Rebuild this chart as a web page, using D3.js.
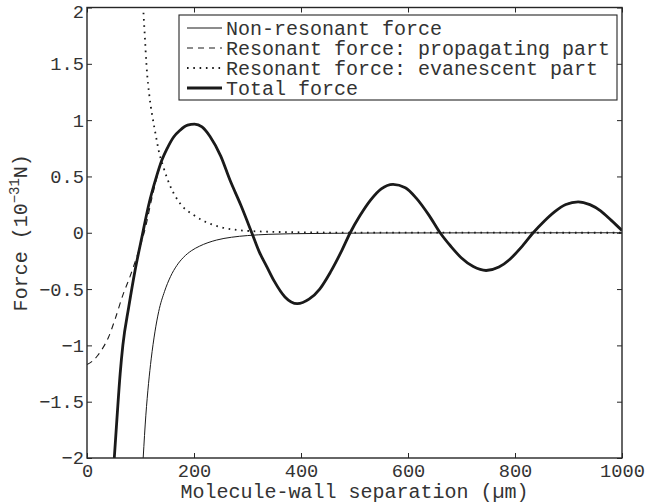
<!DOCTYPE html>
<html>
<head>
<meta charset="utf-8">
<script src="https://cdn.jsdelivr.net/npm/d3@7"></script>
<style>
  body { margin: 0; background: #fff; }
  svg text { font-family: "Liberation Mono", "Courier New", monospace; fill: #333; }
</style>
</head>
<body>
<svg id="chart" width="645" height="504"></svg>
<script>
// --- data (x in µm, y in 1e-31 N) ---
const xTicks = [0, 200, 400, 600, 800, 1000];
const yTicks = [-2, -1.5, -1, -0.5, 0, 0.5, 1, 1.5, 2];
const yTickLabels = ["−2", "−1.5", "−1", "−0.5", "0", "0.5", "1", "1.5", "2"];

const legendLabels = [
  "Non-resonant force",
  "Resonant force: propagating part",
  "Resonant force: evanescent part",
  "Total force"
];

// non-resonant force (thin solid)
const nonResonant = [
  [105, -2.0], [110, -1.62], [115, -1.34], [120, -1.12], [127, -0.88], [134, -0.70],
  [145, -0.52], [156, -0.39], [168, -0.29], [180, -0.22], [195, -0.16], [210, -0.12],
  [242, -0.065], [270, -0.04], [300, -0.025], [340, -0.014], [380, -0.009], [450, -0.005],
  [550, -0.002], [700, -0.001], [1000, 0]
];

// resonant force, propagating part (dashed) – below x≈140 it is visible, after that it runs under the total
const propagatingStart = [
  [0, -1.17], [10, -1.14], [20, -1.09], [30, -1.02], [40, -0.93], [53, -0.76],
  [68, -0.54], [78, -0.42], [87, -0.30], [100, -0.11], [110, 0.06], [120, 0.28], [130, 0.48]
];

// resonant force, evanescent part (dotted)
const evanescent = [
  [100, 2.4], [105, 2.0], [108, 1.75], [111, 1.5], [117, 1.2], [122, 1.04], [128, 0.88],
  [134, 0.73], [143, 0.58], [156, 0.41], [174, 0.26], [200, 0.155], [221, 0.098],
  [250, 0.05], [280, 0.025], [320, 0.012], [400, 0.004], [500, 0.001], [1000, 0]
];

// total force (bold)
const total = [
  [51, -2.0], [55, -1.72], [62, -1.25], [67, -1.0], [78, -0.66], [90, -0.33],
  [103, -0.03], [115, 0.24], [130, 0.50], [140, 0.645], [150, 0.75], [162, 0.85],
  [174, 0.91], [188, 0.955], [201, 0.965], [215, 0.94], [230, 0.855], [250, 0.68],
  [267, 0.47], [288, 0.24], [308, 0.0], [322, -0.17], [336, -0.30], [350, -0.43],
  [370, -0.57], [393, -0.63], [415, -0.59], [435, -0.50], [455, -0.35], [475, -0.17],
  [492, 0.0], [510, 0.15], [530, 0.29], [550, 0.39], [572, 0.43], [595, 0.40],
  [615, 0.31], [640, 0.15], [660, 0.0], [680, -0.12], [700, -0.224], [722, -0.30],
  [746, -0.335], [770, -0.305], [790, -0.237], [812, -0.128], [834, 0.0], [855, 0.105],
  [875, 0.19], [895, 0.25], [918, 0.275], [940, 0.25], [960, 0.195], [980, 0.11], [1000, 0.02]
];

const propagating = propagatingStart.concat(total.filter(d => d[0] >= 140));

// --- layout ---
const margin = { left: 87, right: 23, top: 7.5, bottom: 46 };
const W = 645, H = 504;
const iw = W - margin.left - margin.right;
const ih = H - margin.top - margin.bottom;

const svg = d3.select("#chart");
const g = svg.append("g").attr("transform", `translate(${margin.left},${margin.top})`);

const x = d3.scaleLinear().domain([0, 1000]).range([0, iw]);
const y = d3.scaleLinear().domain([-2, 2]).range([ih, 0]);

g.append("clipPath").attr("id", "clip")
  .append("rect").attr("width", iw).attr("height", ih);

// axes with inward ticks
const axisStyle = sel => {
  sel.select(".domain").remove();
  sel.selectAll(".tick line").attr("stroke", "#262626");
  sel.selectAll(".tick text").style("font-size", "18.7px").attr("fill", "#333");
};

g.append("g").attr("transform", `translate(0,${ih})`)
  .call(d3.axisBottom(x).tickValues(xTicks).tickSize(-5).tickPadding(6).tickFormat(d3.format("d")))
  .call(axisStyle);
g.append("g")
  .call(d3.axisTop(x).tickValues(xTicks).tickSize(-5).tickFormat(""))
  .call(axisStyle);
const yAxisG = g.append("g")
  .call(d3.axisLeft(y).tickValues(yTicks).tickSize(-5).tickPadding(3)
    .tickFormat((d, i) => yTickLabels[i]))
  .call(axisStyle);
// the top label sits a little lower, as in the figure
yAxisG.selectAll(".tick text").filter(d => d === 2).attr("y", 4);
g.append("g").attr("transform", `translate(${iw},0)`)
  .call(d3.axisRight(y).tickValues(yTicks).tickSize(-5).tickFormat(""))
  .call(axisStyle);

g.selectAll(".tick text").attr("font-family", "Liberation Mono, monospace");

// curves
const line = d3.line().x(d => x(d[0])).y(d => y(d[1])).curve(d3.curveMonotoneX);
const curves = g.append("g").attr("clip-path", "url(#clip)");

const styles = [
  { data: nonResonant, width: 1, dash: null },
  { data: propagating, width: 1.1, dash: "6,5" },
  { data: evanescent, width: 1.8, dash: "1.6,4.7" },
  { data: total, width: 2.8, dash: null }
];

styles.forEach(s => {
  curves.append("path")
    .datum(s.data)
    .attr("d", line)
    .attr("fill", "none")
    .attr("stroke", "#1a1a1a")
    .attr("stroke-width", s.width)
    .attr("stroke-dasharray", s.dash);
});

// box
g.append("rect").attr("width", iw).attr("height", ih)
  .attr("fill", "none").attr("stroke", "#262626").attr("stroke-width", 1.4);

// legend
const legend = svg.append("g");
legend.append("rect")
  .attr("x", 179).attr("y", 15).attr("width", 438).attr("height", 85)
  .attr("fill", "#fff").attr("stroke", "#262626").attr("stroke-width", 1.1);

legendLabels.forEach((lab, i) => {
  const ly = 28 + i * 20;
  const s = styles[i];
  legend.append("line")
    .attr("x1", 187).attr("x2", 222).attr("y1", ly).attr("y2", ly)
    .attr("stroke", "#1a1a1a").attr("stroke-width", s.width)
    .attr("stroke-dasharray", s.dash);
  legend.append("text")
    .attr("x", 226).attr("y", ly).attr("dy", "0.36em")
    .style("font-size", "20px")
    .text(lab);
});

// axis labels
svg.append("text")
  .attr("x", margin.left + iw / 2).attr("y", 498)
  .attr("text-anchor", "middle")
  .style("font-size", "20px")
  .text("Molecule-wall separation (µm)");

const yl = svg.append("text")
  .attr("transform", `translate(27,${margin.top + ih / 2}) rotate(-90)`)
  .attr("text-anchor", "middle")
  .style("font-size", "20px");
yl.append("tspan").text("Force (10");
yl.append("tspan").attr("dy", -8).style("font-size", "14px").text("−31");
yl.append("tspan").attr("dy", 8).text("N)");
</script>
</body>
</html>
